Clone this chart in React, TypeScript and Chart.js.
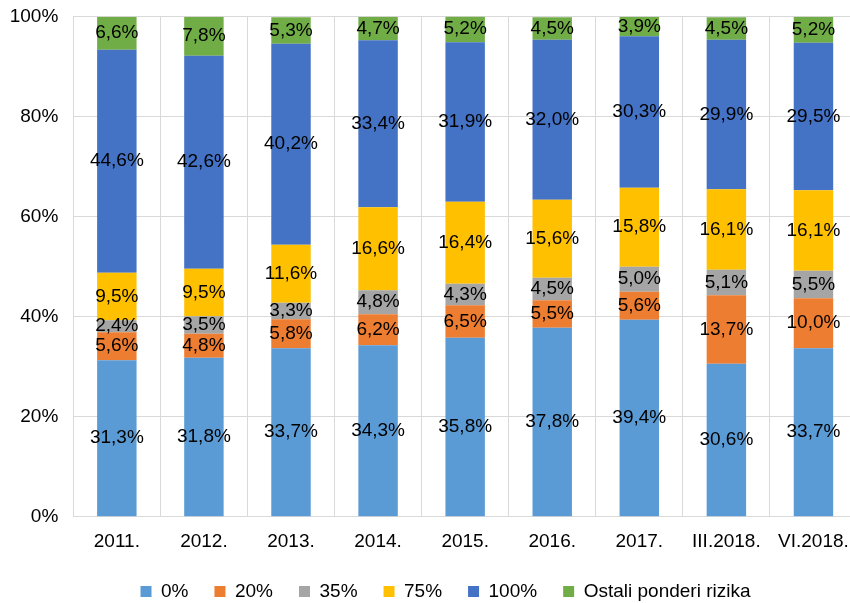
import React, { useEffect, useRef } from "react";
import { Chart, registerables } from "chart.js";

Chart.register(...registerables);

const categories = ["2011.", "2012.", "2013.", "2014.", "2015.", "2016.", "2017.", "III.2018.", "VI.2018."];
const s0 = [31.3, 31.8, 33.7, 34.3, 35.8, 37.8, 39.4, 30.6, 33.7];
const s20 = [5.6, 4.8, 5.8, 6.2, 6.5, 5.5, 5.6, 13.7, 10.0];
const s35 = [2.4, 3.5, 3.3, 4.8, 4.3, 4.5, 5.0, 5.1, 5.5];
const s75 = [9.5, 9.5, 11.6, 16.6, 16.4, 15.6, 15.8, 16.1, 16.1];
const s100 = [44.6, 42.6, 40.2, 33.4, 31.9, 32.0, 30.3, 29.9, 29.5];
const sOther = [6.6, 7.8, 5.3, 4.7, 5.2, 4.5, 3.9, 4.5, 5.2];
const seriesNames = ["0%", "20%", "35%", "75%", "100%", "Ostali ponderi rizika"];
const colors = ["#5B9BD5", "#ED7D31", "#A5A5A5", "#FFC000", "#4472C4", "#70AD47"];
const yTicks = [0, 20, 40, 60, 80, 100];

const FONT = "'Liberation Sans', Arial, sans-serif";
const LEGEND_PAD = 26;
const LEGEND_FONT = 19;

const labelPlugin = {
  id: "segLabels",
  afterDatasetsDraw(chart: any) {
    const ctx = chart.ctx;
    ctx.save();
    ctx.font = `19px ${FONT}`;
    ctx.fillStyle = "#000000";
    ctx.textAlign = "center";
    ctx.textBaseline = "middle";
    chart.data.datasets.forEach((ds: any, di: number) => {
      const meta = chart.getDatasetMeta(di);
      meta.data.forEach((el: any, i: number) => {
        const v = ds.data[i];
        const y = (el.y + el.base) / 2;
        ctx.fillText(v.toFixed(1).replace(".", ",") + "%", el.x, y);
      });
    });
    ctx.restore();
  },
};

const legendShift = {
  id: "legendShift",
  beforeDraw(chart: any) {
    const lg = chart.legend;
    if (!lg) return;
    const targetCenterY = 591.5;
    const h = lg.bottom - lg.top;
    lg.top = targetCenterY - (LEGEND_PAD + LEGEND_FONT / 2);
    lg.bottom = lg.top + h;
    const shift = 445.5 - (lg.left + lg.right) / 2;
    lg.left += shift;
    lg.right += shift;
  },
};

export default function App() {
  const ref = useRef<HTMLCanvasElement>(null);
  useEffect(() => {
    const all = [s0, s20, s35, s75, s100, sOther];
    const chart = new Chart(ref.current!, {
      type: "bar",
      data: {
        labels: categories,
        datasets: all.map((d, i) => ({
          label: seriesNames[i],
          data: d,
          backgroundColor: colors[i],
          borderWidth: 0,
          categoryPercentage: 1,
          barPercentage: 0.453,
        })),
      },
      options: {
        responsive: false,
        animation: false,
        layout: { padding: { left: 0, right: 0, top: 16.7, bottom: -19.5 } },
        plugins: {
          legend: {
            position: "bottom",
            labels: {
              boxWidth: 11,
              boxHeight: 11,
              padding: LEGEND_PAD,
              color: "#000000",
              font: { family: FONT, size: LEGEND_FONT },
            },
          },
          tooltip: { enabled: false },
        },
        scales: {
          x: {
            stacked: true,
            afterFit(scale: any) {
              scale.paddingLeft = 0;
              scale.paddingRight = 0;
            },
            grid: { color: "#D9D9D9", drawTicks: false, offset: true },
            border: { color: "#D9D9D9" },
            ticks: { color: "#000000", font: { family: FONT, size: 19 }, padding: 14, maxRotation: 0, autoSkip: false },
          },
          y: {
            stacked: true,
            min: 0,
            max: 100,
            afterFit(scale: any) {
              scale.width = 73.3;
              scale.paddingTop = 0;
              scale.paddingBottom = 0;
            },
            afterBuildTicks(scale: any) {
              scale.ticks = yTicks.map((v) => ({ value: v }));
            },
            grid: { color: "#D9D9D9", drawTicks: false },
            border: { display: false },
            ticks: {
              color: "#000000",
              font: { family: FONT, size: 19 },
              padding: 15,
              callback: (v: any) => v + "%",
            },
          },
        },
      },
      plugins: [labelPlugin, legendShift],
    });
    return () => chart.destroy();
  }, []);
  return (
    <div style={{ position: "absolute", left: 0, top: 0, width: 850, height: 603, overflow: "hidden", background: "#fff" }}>
      <canvas ref={ref} width={857} height={603} style={{ display: "block" }} />
    </div>
  );
}
